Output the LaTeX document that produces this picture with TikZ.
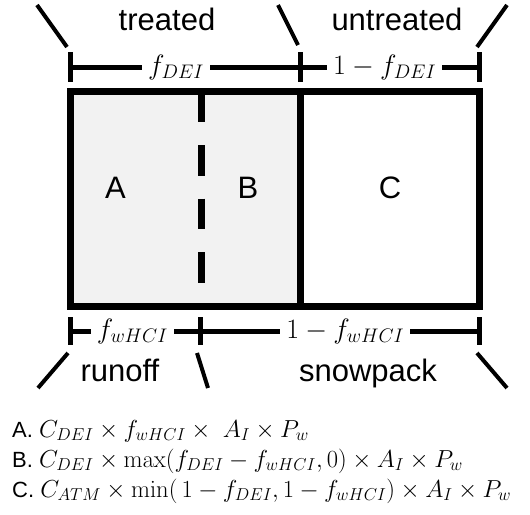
\RequirePackage{fix-cm}
\documentclass[tikz,border=0pt]{standalone}
\usepackage{amsmath}
\usepackage[no-math]{fontspec}
\setmainfont{Liberation Sans}
\usetikzlibrary{positioning,calc}
\definecolor{zoneGray}{HTML}{F2F2F2}
\newcommand{\fmath}[1]{{\fontsize{24.6}{26}\selectfont$#1$}}
\tikzset{
  wall/.style={line width=7pt},
  divider/.style={line width=7pt, dash pattern=on 30.5pt off 23pt},
  dimline/.style={line width=5pt},
  slash/.style={line width=4pt},
  dimlabel/.style={fill=white, inner xsep=6pt, inner ysep=1pt, font=\fontsize{28}{30}\selectfont},
  zonelabel/.style={font=\fontsize{31}{34}\selectfont, inner sep=0pt},
  sidelabel/.style={font=\fontsize{31}{34}\selectfont, anchor=base, inner sep=0pt},
  formula/.style={anchor=base west, font=\fontsize{22}{24}\selectfont, inner sep=0pt}
}

\begin{document}
\begin{tikzpicture}[x=1pt, y=-1pt]
  \useasboundingbox (0,0) rectangle (530,514);
  % box corners
  \coordinate (nw) at (70,91.5);
  \coordinate (ne) at (479.5,91.5);
  \coordinate (se) at (479.5,306);
  \coordinate (sw) at (70,306);
  \coordinate (midtop) at (300.5,91.5);
  \coordinate (midbot) at (300.5,306);
  \coordinate (dashtop) at (201,91.5);
  \coordinate (dashbot) at (201,306);

  \fill[zoneGray] (nw) rectangle (midbot);
  \draw[divider] (dashtop) -- (dashbot);
  \draw[wall] (midtop) -- (midbot);
  \draw[wall] (nw) rectangle (se);

  \node[zonelabel] (zoneA) at (115.5,188) {A};
  \node[zonelabel] (zoneB) at (248,188) {B};
  \node[zonelabel] (zoneC) at (390,188) {C};

  % top dimension
  \coordinate (tl) at (70,67);
  \coordinate (tm) at (300.5,67);
  \coordinate (tr) at (479.5,67);
  \draw[dimline] (70,52) -- (70,82);
  \draw[dimline] (300.5,52) -- (300.5,82);
  \draw[dimline] (479.5,52) -- (479.5,82);
  \draw[dimline] (tl) -- node[dimlabel, pos=0.46] (fdei) {$f_{DEI}$} (tm);
  \draw[dimline] (tm) -- node[dimlabel, pos=0.47] (onefdei) {$1-f_{DEI}$} (tr);

  % bottom dimension
  \coordinate (bl) at (70,331);
  \coordinate (bm) at (200,331);
  \coordinate (br) at (479.5,331);
  \draw[dimline] (70,317) -- (70,345);
  \draw[dimline] (200,317) -- (200,345);
  \draw[dimline] (479.5,317) -- (479.5,345);
  \draw[dimline] (bl) -- node[dimlabel, pos=0.48] (fwhci) {$f_{wHCI}$} (bm);
  \draw[dimline] (bm) -- node[dimlabel, pos=0.52] (onefwhci) {$1-f_{wHCI}$} (br);

  % slashes
  \draw[slash] (37,5) -- (67,47);
  \draw[slash] (278,5) -- (298,45);
  \draw[slash] (507,5) -- (477,47);
  \draw[slash] (68,353) -- (38,388);
  \draw[slash] (197,353) -- (208,388);
  \draw[slash] (477,353) -- (507,388);

  \node[sidelabel] (treated) at (167,30) {treated};
  \node[sidelabel] (untreated) at (397,30) {untreated};
  \node[sidelabel] (runoff) at (120,381) {runoff};
  \node[sidelabel] (snowpack) at (368,381) {snowpack};

  % formulas
  \node[formula] (fA) at (12,437) {A. \fmath{C_{DEI}\times f_{wHCI}\times\ A_I\times P_w}};
  \node[formula] (fB) at (12,467) {B. \fmath{C_{DEI}\times\max(f_{DEI}-f_{wHCI},0)\times A_I\times P_w}};
  \node[formula] (fC) at (12,497) {C. \fmath{C_{ATM}\times\min(\,1-f_{DEI},1-f_{wHCI})\times A_I\times P_w}};
\end{tikzpicture}
\end{document}
